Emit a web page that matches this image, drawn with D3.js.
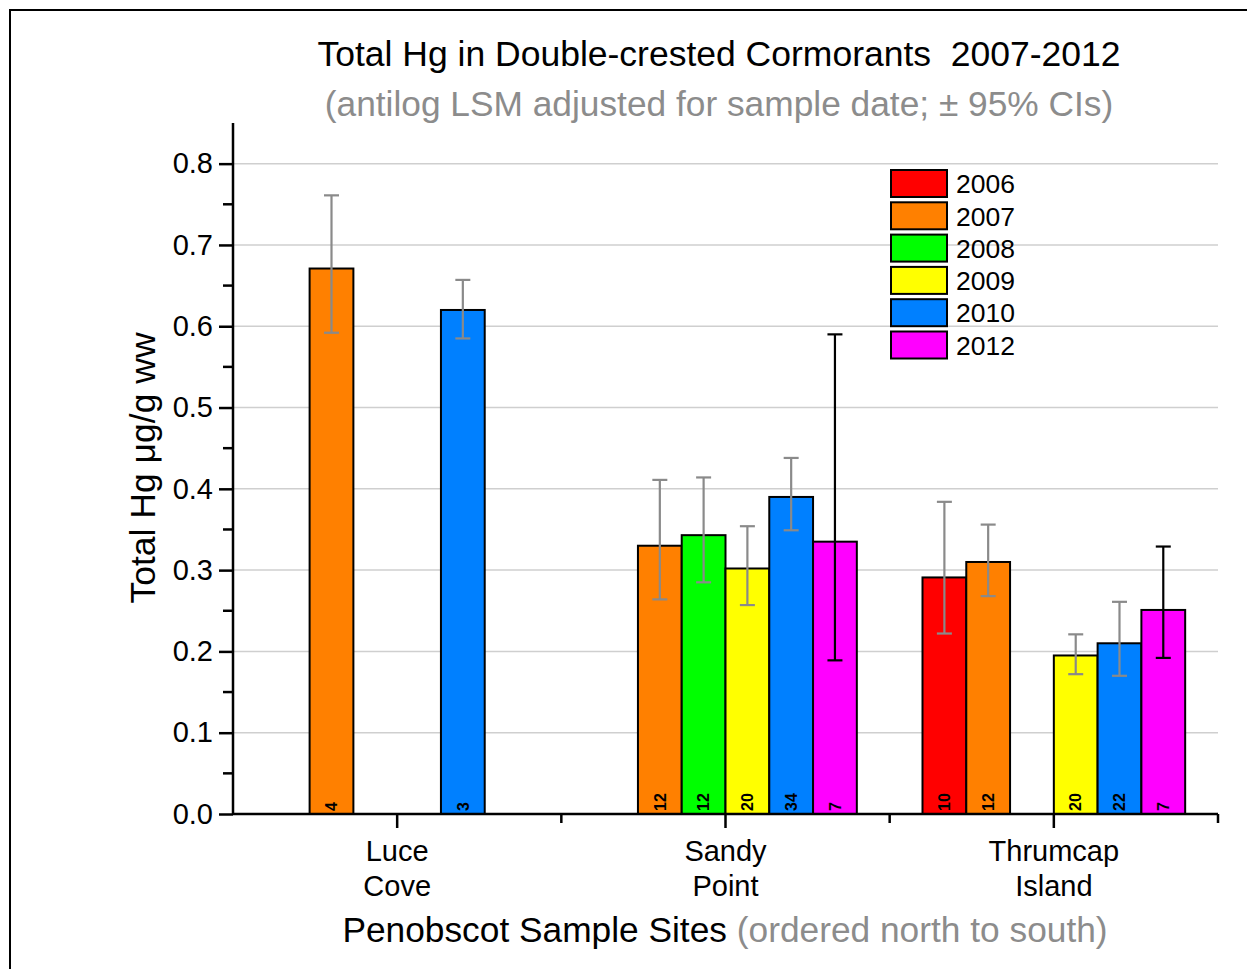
<!DOCTYPE html>
<html>
<head>
<meta charset="utf-8">
<script src="https://cdn.jsdelivr.net/npm/d3@7"></script>
<style>
  body { margin: 0; background: #fff; }
  svg { display: block; font-family: "Liberation Sans", Arial, sans-serif; }
</style>
</head>
<body>
<svg width="1247" height="969"></svg>
<script>
// Data
const sites = ["Luce Cove", "Sandy Point", "Thrumcap Island"];
const siteLines = [["Luce", "Cove"], ["Sandy", "Point"], ["Thrumcap", "Island"]];
const years = ["2006", "2007", "2008", "2009", "2010", "2012"];
const yearColors = ["#ff0000", "#ff8000", "#00ff00", "#ffff00", "#0080ff", "#ff00ff"];

// antilog LSM per site, in order of years (null = not sampled)
const meanHg = [
  [null, 0.671, null, null, 0.620, null],
  [null, 0.330, 0.343, 0.302, 0.390, 0.335],
  [0.291, 0.310, null, 0.195, 0.210, 0.251]
];
const ciLow = [
  [null, 0.592, null, null, 0.585, null],
  [null, 0.264, 0.285, 0.257, 0.349, 0.189],
  [0.222, 0.268, null, 0.172, 0.170, 0.192]
];
const ciHigh = [
  [null, 0.761, null, null, 0.657, null],
  [null, 0.411, 0.414, 0.354, 0.438, 0.590],
  [0.384, 0.356, null, 0.221, 0.261, 0.329]
];
const sampleN = [
  [null, 4, null, null, 3, null],
  [null, 12, 12, 20, 34, 7],
  [10, 12, null, 20, 22, 7]
];
const yTicks = [0, 0.1, 0.2, 0.3, 0.4, 0.5, 0.6, 0.7, 0.8];

// Dimensioner
const margin = { top: 123, right: 29, bottom: 155, left: 233 };
const width = 1247, height = 969;

const svg = d3.select("svg");

// Ramme
svg.append("rect")
  .attr("x", 10).attr("y", 10)
  .attr("width", 1260).attr("height", 980)
  .attr("fill", "none").attr("stroke", "#000").attr("stroke-width", 2);

// Skaler
const x0 = d3.scaleBand()
  .domain(sites)
  .range([margin.left, width - margin.right]);

const x1 = d3.scaleBand()
  .domain(years)
  .range([0, x0.bandwidth()])
  .paddingOuter(0.75);

const y = d3.scaleLinear()
  .domain([0, 0.85])
  .range([height - margin.bottom, margin.top]);

// Gitterlinjer
svg.append("g")
  .selectAll("line")
  .data(yTicks.filter(d => d > 0))
  .join("line")
  .attr("x1", margin.left).attr("x2", width - margin.right)
  .attr("y1", d => y(d)).attr("y2", d => y(d))
  .attr("stroke", "#cfcfcf").attr("stroke-width", 1.5);

// Flad data
const flat = [];
sites.forEach((s, i) => {
  years.forEach((yr, j) => {
    if (meanHg[i][j] != null) {
      flat.push({ site: s, year: yr, color: yearColors[j], v: meanHg[i][j],
        lo: ciLow[i][j], hi: ciHigh[i][j], n: sampleN[i][j] });
    }
  });
});

// Søjler
const bars = svg.append("g")
  .selectAll("g")
  .data(flat)
  .join("g")
  .attr("transform", d => `translate(${x0(d.site) + x1(d.year)},0)`);

bars.append("rect")
  .attr("x", 0)
  .attr("y", d => y(d.v))
  .attr("width", x1.bandwidth())
  .attr("height", d => y(0) - y(d.v))
  .attr("fill", d => d.color)
  .attr("stroke", "#000")
  .attr("stroke-width", 2);

// n-tal i søjlerne
bars.append("text")
  .attr("transform", `translate(${x1.bandwidth() / 2},${y(0) - 3}) rotate(-90)`)
  .attr("dy", "0.36em")
  .attr("font-size", 16)
  .attr("font-weight", "bold")
  .text(d => d.n);

// Fejlsøjler
const cap = 7.5;
const err = bars.append("g")
  .attr("stroke", d => d.year === "2012" ? "#000" : "#8a8a8a")
  .attr("stroke-width", 2.2);
err.append("line")
  .attr("x1", x1.bandwidth() / 2).attr("x2", x1.bandwidth() / 2)
  .attr("y1", d => y(d.lo)).attr("y2", d => y(d.hi));
err.append("line")
  .attr("x1", x1.bandwidth() / 2 - cap).attr("x2", x1.bandwidth() / 2 + cap)
  .attr("y1", d => y(d.hi)).attr("y2", d => y(d.hi));
err.append("line")
  .attr("x1", x1.bandwidth() / 2 - cap).attr("x2", x1.bandwidth() / 2 + cap)
  .attr("y1", d => y(d.lo)).attr("y2", d => y(d.lo));

// Y-akse
const yAxis = svg.append("g")
  .attr("transform", `translate(${margin.left},0)`)
  .call(d3.axisLeft(y).tickValues(yTicks).tickFormat(d3.format(".1f")).tickSize(14).tickPadding(6));
yAxis.select(".domain").attr("stroke-width", 2.5).attr("d", `M0,${y(0.85)}V${y(0)}`);
yAxis.selectAll(".tick line").attr("stroke-width", 2.5);
yAxis.selectAll(".tick text").attr("font-size", 29).attr("font-family", "Liberation Sans, Arial, sans-serif");

// Mindre streger
svg.append("g")
  .selectAll("line")
  .data(d3.range(0.05, 0.85, 0.1))
  .join("line")
  .attr("x1", margin.left - 10).attr("x2", margin.left)
  .attr("y1", d => y(d)).attr("y2", d => y(d))
  .attr("stroke", "#000").attr("stroke-width", 2.5);

// X-akse
const xg = svg.append("g").attr("transform", `translate(0,${y(0)})`);
xg.append("line")
  .attr("x1", margin.left).attr("x2", width - margin.right)
  .attr("stroke", "#000").attr("stroke-width", 2.5);
xg.selectAll(".major")
  .data(sites)
  .join("line")
  .attr("x1", d => x0(d) + x0.bandwidth() / 2).attr("x2", d => x0(d) + x0.bandwidth() / 2)
  .attr("y1", 0).attr("y2", 14)
  .attr("stroke", "#000").attr("stroke-width", 2.5);
xg.selectAll(".minor")
  .data(sites.slice(1).concat(["end"]))
  .join("line")
  .attr("x1", (d, i) => i < 2 ? x0(d) : width - margin.right)
  .attr("x2", (d, i) => i < 2 ? x0(d) : width - margin.right)
  .attr("y1", 0).attr("y2", 9)
  .attr("stroke", "#000").attr("stroke-width", 2.5);

// Kategori-etiketter
const catLabels = svg.append("g")
  .selectAll("text")
  .data(sites)
  .join("text")
  .attr("x", d => x0(d) + x0.bandwidth() / 2)
  .attr("text-anchor", "middle")
  .attr("font-size", 29);
catLabels.selectAll("tspan")
  .data((d, i) => siteLines[i])
  .join("tspan")
  .attr("x", function () { return this.parentNode.getAttribute("x"); })
  .attr("y", (d, i) => 861 + i * 35)
  .text(d => d);

// Titler
svg.append("text")
  .attr("x", 719).attr("y", 66)
  .attr("text-anchor", "middle")
  .attr("font-size", 35.5)
  .text("Total Hg in Double-crested Cormorants\u00a0\u00a02007-2012");

svg.append("text")
  .attr("x", 719).attr("y", 116)
  .attr("text-anchor", "middle")
  .attr("font-size", 35.3)
  .attr("fill", "#8c8c8c")
  .text("(antilog LSM adjusted for sample date; \u00b1 95% CIs)");

const xt = svg.append("text")
  .attr("x", 725).attr("y", 942)
  .attr("text-anchor", "middle")
  .attr("font-size", 35.3);
xt.append("tspan").text("Penobscot Sample Sites ");
xt.append("tspan").attr("fill", "#8c8c8c").text("(ordered north to south)");

svg.append("text")
  .attr("transform", `translate(155,${468}) rotate(-90)`)
  .attr("text-anchor", "middle")
  .attr("font-size", 35.5)
  .text("Total Hg \u03bcg/g ww");

// Legende
const legend = svg.append("g")
  .selectAll("g")
  .data(years)
  .join("g")
  .attr("transform", (d, i) => `translate(891,${170 + i * 32.3})`);
legend.append("rect")
  .attr("width", 56).attr("height", 27)
  .attr("fill", (d, i) => yearColors[i])
  .attr("stroke", "#000").attr("stroke-width", 2);
legend.append("text")
  .attr("x", 65).attr("y", 14)
  .attr("dy", "0.35em")
  .attr("font-size", 26.5)
  .text(d => d);
</script>
</body>
</html>
